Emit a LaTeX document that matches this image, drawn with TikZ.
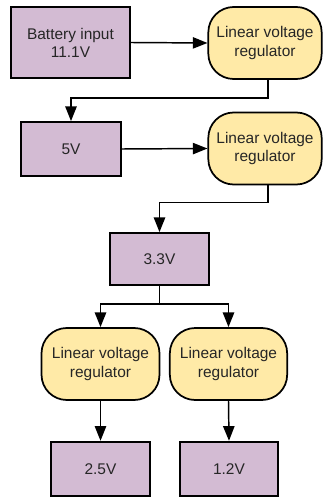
\documentclass[tikz,border=0pt]{standalone}
\usepackage{fontspec}
\setmainfont{Liberation Sans}
\usepackage{tikz}
\usetikzlibrary{arrows.meta}
\usepackage{xcolor}

\definecolor{voltfill}{RGB}{211,187,211}
\definecolor{regfill}{RGB}{255,234,167}

\begin{document}
\begin{tikzpicture}[
  x=0.75pt, y=-0.75pt,
  font=\fontsize{11.6}{13.6}\selectfont,
  volt/.style = {draw=black, line width=1.3pt, fill=voltfill, align=center,
                 text=black!85, inner sep=2pt},
  reg/.style  = {draw=black, line width=1.3pt, fill=regfill, align=center,
                 text=black!85, rounded corners=19pt, inner sep=2pt,
                 minimum width=85pt, minimum height=54pt},
  ar/.style   = {-{Triangle[length=11pt,width=8.5pt]}, line width=1.1pt, draw=black},
]
\useasboundingbox (0,0) rectangle (322,499);

% ---- first stage -----------------------------------------------------------
\node[volt, minimum width=89pt, minimum height=53pt] (bat) at (70.5,42.5)
  {Battery input\\11.1V};
\node[reg] (reg1) at (265,43) {Linear voltage\\regulator};

\draw[ar] (bat.east) -- (reg1.west);

% ---- second stage ----------------------------------------------------------
\node[volt, minimum width=75pt, minimum height=40.5pt] (v5) at (71,149) {5V};
\node[reg] (reg2) at (265,148.5) {Linear voltage\\regulator};

\draw[ar] ([xshift=2.25pt]reg1.south) -- ++(0,18) -| (v5.north);
\draw[ar] (v5.east) -- (reg2.west);

% ---- 3.3V rail -------------------------------------------------------------
\node[volt, minimum width=74pt, minimum height=39pt] (v33) at (159.5,259) {3.3V};

\draw[ar] ([xshift=2.25pt]reg2.south) -- ++(0,17) -| (v33.north);

% ---- split -----------------------------------------------------------------
\node[reg, minimum width=88.5pt] (reg3) at (100.5,364) {Linear voltage\\regulator};
\node[reg, minimum width=88pt]   (reg4) at (228.5,364) {Linear voltage\\regulator};

\draw[ar] (v33.south) -- ++(0,18) -| (reg3.north);
\draw[ar] (v33.south) -- ++(0,18) -| (reg4.north);

% ---- outputs ---------------------------------------------------------------
\node[volt, minimum width=74pt, minimum height=41pt] (v25) at (100.5,469) {2.5V};
\node[volt, minimum width=73.5pt, minimum height=41pt] (v12) at (229,469) {1.2V};

\draw[ar] (reg3.south) -- (v25.north);
\draw[ar] (reg4.south) -- (v12.north);

\end{tikzpicture}
\end{document}
